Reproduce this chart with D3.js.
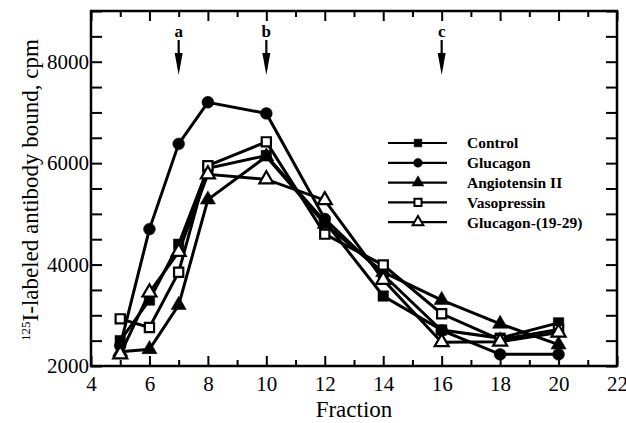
<!DOCTYPE html>
<html>
  <head>
    <script src="https://d3js.org/d3.v7.min.js" charset="utf-8"></script>
    <meta charset="UTF-8">
    <title>antibody binding by fraction</title>
    <style>
     body { margin: 0; background: #fff; }
     .chart text { font-family: "Liberation Serif", "Times New Roman", serif; fill: #000; }
     .axis path { display: none; }
     .axis line { stroke: #000; stroke-width: 2; }
    </style>
  </head>
  <body>
    <svg class="chart"></svg>
    <script type="text/javascript">

     var width = 626,
         height = 423;

     // data
     var fractions = [5, 6, 7, 8, 10, 12, 14, 16, 18, 20];
     var control      = [2500, 3300, 4400, 5900, 6150, 4850, 3380, 2710, 2550, 2850];
     var glucagon     = [2400, 4700, 6380, 7200, 6980, 4900, 3800, 2700, 2230, 2230];
     var angiotensin  = [2280, 2330, 3200, 5280, 6130, 4800, 3850, 3300, 2830, 2420];
     var vasopressin  = [2930, 2760, 3850, 5950, 6420, 4600, 3990, 3030, 2520, 2720];
     var glucagon1929 = [2230, 3450, 4250, 5780, 5680, 5270, 3700, 2470, 2480, 2660];

     var seriesNames = ["Control", "Glucagon", "Angiotensin II", "Vasopressin", "Glucagon-(19-29)"];
     var seriesValues = [control, glucagon, angiotensin, vasopressin, glucagon1929];
     var seriesShapes = ["square", "circle", "triangle", "square", "triangle"];
     var seriesFilled = [true, true, true, false, false];

     var markers = [{label: "a", fraction: 7}, {label: "b", fraction: 10}, {label: "c", fraction: 16}];

     var xTickLabels = [4, 6, 8, 10, 12, 14, 16, 18, 20, 22];
     var yTickLabels = [2000, 4000, 6000, 8000];

     var x = d3.scaleLinear().domain([4, 22]).range([91, 617]);
     var y = d3.scaleLinear().domain([2000, 9000]).range([366, 11]);

     var chart = d3.select(".chart")
                   .attr("width", width)
                   .attr("height", height);

     // axes (ticks point inward)
     var xMinor = d3.range(5, 22, 2);
     var yAll = d3.range(2000, 9001, 500);

     chart.append("g").attr("class", "axis")
          .attr("transform", "translate(0," + y(2000) + ")")
          .call(d3.axisBottom(x).tickValues(xTickLabels).tickSize(-10).tickPadding(10))
          .selectAll("text").style("font-size", "21px");
     chart.append("g").attr("class", "axis")
          .attr("transform", "translate(0," + y(2000) + ")")
          .call(d3.axisBottom(x).tickValues(xMinor).tickSize(-6).tickFormat(""));
     chart.append("g").attr("class", "axis")
          .attr("transform", "translate(0," + y(9000) + ")")
          .call(d3.axisTop(x).tickValues(xTickLabels).tickSize(-10).tickFormat(""));
     chart.append("g").attr("class", "axis")
          .attr("transform", "translate(0," + y(9000) + ")")
          .call(d3.axisTop(x).tickValues(xMinor).tickSize(-6).tickFormat(""));

     chart.append("g").attr("class", "axis")
          .attr("transform", "translate(" + x(4) + ",0)")
          .call(d3.axisLeft(y).tickValues(yAll).tickSize(-11).tickPadding(2)
                  .tickFormat(function(d) { return yTickLabels.indexOf(d) >= 0 ? d : ""; }))
          .selectAll("text").style("font-size", "21px");
     chart.append("g").attr("class", "axis")
          .attr("transform", "translate(" + x(22) + ",0)")
          .call(d3.axisRight(y).tickValues(yAll).tickSize(-11).tickFormat(""));

     chart.append("rect")
          .attr("x", x(4)).attr("y", y(9000))
          .attr("width", x(22) - x(4)).attr("height", y(2000) - y(9000))
          .attr("fill", "none").attr("stroke", "#000").attr("stroke-width", 2.5);

     chart.append("text")
          .attr("x", 354).attr("y", 417)
          .attr("text-anchor", "middle")
          .style("font-size", "23px")
          .text("Fraction");

     var ylab = chart.append("text")
          .attr("transform", "translate(38," + 190 + ") rotate(-90)")
          .attr("text-anchor", "middle")
          .style("font-size", "23px");
     ylab.append("tspan").attr("dy", "-8").style("font-size", "13px").text("125");
     ylab.append("tspan").attr("dy", "8").text("I-labeled antibody bound, cpm");

     // arrows
     var arrows = chart.append("g").selectAll("g").data(markers).enter().append("g")
          .attr("transform", function(d) { return "translate(" + x(d.fraction) + ",0)"; });
     arrows.append("text")
          .attr("y", 37).attr("text-anchor", "middle")
          .style("font-size", "17px").style("font-weight", "bold")
          .text(function(d) { return d.label; });
     arrows.append("line")
          .attr("x1", 0).attr("x2", 0).attr("y1", 40).attr("y2", 58)
          .attr("stroke", "#000").attr("stroke-width", 2.2);
     arrows.append("path")
          .attr("d", "M-4,53 L4,53 L0,75 Z")
          .attr("fill", "#000");

     // series
     var symbolFor = {
         square: d3.symbolSquare,
         circle: d3.symbolCircle,
         triangle: d3.symbolTriangle
     };
     function symbolSize(shape, filled) {
         if (shape === "square") return filled ? 110 : 85;
         if (shape === "circle") return 110;
         return filled ? 100 : 85;
     }

     var line = d3.line()
                  .x(function(d, i) { return x(fractions[i]); })
                  .y(function(d) { return y(d); });

     var plot = chart.append("g");
     seriesValues.forEach(function(vals, s) {
         plot.append("path")
             .datum(vals)
             .attr("d", line)
             .attr("fill", "none")
             .attr("stroke", "#000")
             .attr("stroke-width", 3);
     });
     seriesValues.forEach(function(vals, s) {
         plot.append("g").selectAll("path")
             .data(vals)
             .enter().append("path")
             .attr("transform", function(d, i) { return "translate(" + x(fractions[i]) + "," + y(d) + ")"; })
             .attr("d", d3.symbol().type(symbolFor[seriesShapes[s]]).size(symbolSize(seriesShapes[s], seriesFilled[s])))
             .attr("fill", seriesFilled[s] ? "#000" : "#fff")
             .attr("stroke", "#000")
             .attr("stroke-width", seriesFilled[s] ? 0.5 : 2.2);
     });

     // legend
     var legend = chart.append("g").selectAll("g")
          .data(seriesNames).enter().append("g")
          .attr("transform", function(d, i) { return "translate(388," + (143 + i * 19.8) + ")"; });
     legend.append("line")
          .attr("x1", 0).attr("x2", 59).attr("y1", 0).attr("y2", 0)
          .attr("stroke", "#000").attr("stroke-width", 2.2);
     legend.append("path")
          .attr("transform", "translate(30,0)")
          .attr("d", function(d, i) {
              return d3.symbol().type(symbolFor[seriesShapes[i]]).size(seriesFilled[i] ? 60 : 50)();
          })
          .attr("fill", function(d, i) { return seriesFilled[i] ? "#000" : "#fff"; })
          .attr("stroke", "#000")
          .attr("stroke-width", function(d, i) { return seriesFilled[i] ? 0.5 : 2; });
     legend.append("text")
          .attr("x", 79).attr("dy", "0.35em")
          .style("font-size", "15.5px").style("font-weight", "bold")
          .text(function(d) { return d; });

    </script>
  </body>
</html>
